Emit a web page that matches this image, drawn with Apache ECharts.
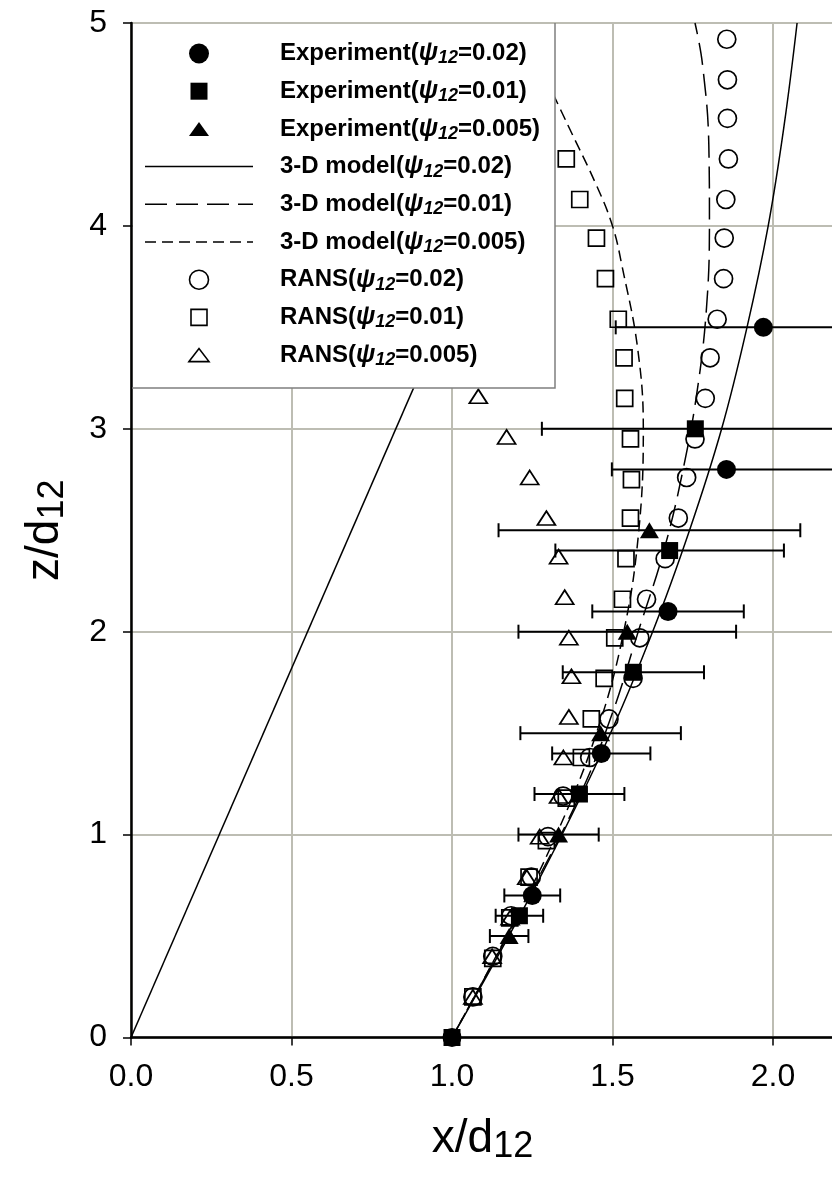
<!DOCTYPE html>
<html>
<head>
<meta charset="utf-8">
<script src="https://cdn.jsdelivr.net/npm/echarts@6/dist/echarts.min.js"></script>
<style>
  html, body { margin: 0; padding: 0; background: #fff; }
  #chart { width: 832px; height: 1182px; }
</style>
</head>
<body>
<div id="chart"></div>
<script>
// ---- Experiment: jet trajectory x/d12 at height z/d12, with horizontal error half-widths ----
const exp02Z = [0, 0.7, 1.4, 2.1, 2.8, 3.5];
const exp02X = [1.0, 1.25, 1.465, 1.673, 1.855, 1.97];
const exp02Err = [0, 0.087, 0.153, 0.236, 0.357, 0.46];

const exp01Z = [0, 0.6, 1.2, 1.8, 2.4, 3.0];
const exp01X = [1.0, 1.21, 1.397, 1.565, 1.678, 1.758];
const exp01Err = [0, 0.074, 0.14, 0.22, 0.356, 0.478];

const exp005Z = [0.5, 1.0, 1.5, 2.0, 2.5];
const exp005X = [1.178, 1.332, 1.463, 1.546, 1.615];
const exp005Err = [0.06, 0.125, 0.25, 0.339, 0.47];

// ---- 3-D model curves ----
const model02Z = [0, 0.7, 1.4, 2.0, 2.5, 3.0, 3.5, 4.0, 4.5, 5.0];
const model02X = [1.0, 1.245, 1.465, 1.625, 1.74, 1.84, 1.919, 1.985, 2.035, 2.075];

const model01Z = [0, 0.7, 1.2, 1.6, 2.0, 2.4, 2.8, 3.2, 3.6, 4.0, 4.4, 4.8, 5.0];
const model01X = [1.0, 1.24, 1.40, 1.50, 1.58, 1.66, 1.72, 1.765, 1.793, 1.802, 1.80, 1.78, 1.757];

const model005Z = [0, 0.5, 1.0, 1.5, 2.0, 2.5, 3.0, 3.4, 3.8, 4.0, 4.2, 4.5, 4.7];
const model005X = [1.0, 1.17, 1.325, 1.45, 1.535, 1.582, 1.596, 1.578, 1.53, 1.50, 1.45, 1.36, 1.30];

// straight solid line starting at the origin
const originLineZ = [0, 4.0];
const originLineX = [0, 1.1];

// ---- RANS results ----
const rans02Z = [0.2, 0.4, 0.6, 0.79, 0.99, 1.19, 1.38, 1.57, 1.77, 1.97, 2.16, 2.36, 2.56, 2.76, 2.95, 3.15, 3.35, 3.54, 3.74, 3.94, 4.13, 4.33, 4.53, 4.72, 4.92];
const rans02X = [1.065, 1.127, 1.184, 1.247, 1.299, 1.346, 1.429, 1.489, 1.564, 1.585, 1.606, 1.664, 1.705, 1.731, 1.757, 1.789, 1.804, 1.826, 1.846, 1.848, 1.853, 1.861, 1.858, 1.858, 1.856];

const rans01Z = [0.2, 0.39, 0.59, 0.79, 0.97, 1.18, 1.38, 1.57, 1.77, 1.97, 2.16, 2.36, 2.56, 2.75, 2.95, 3.15, 3.35, 3.54, 3.74, 3.94, 4.13, 4.33];
const rans01X = [1.065, 1.127, 1.18, 1.24, 1.294, 1.356, 1.403, 1.434, 1.474, 1.507, 1.531, 1.542, 1.556, 1.559, 1.556, 1.538, 1.536, 1.518, 1.478, 1.45, 1.398, 1.356];

const rans005Z = [0.2, 0.4, 0.59, 0.79, 0.99, 1.19, 1.38, 1.58, 1.78, 1.97, 2.17, 2.37, 2.56, 2.76, 2.96, 3.16];
const rans005X = [1.065, 1.125, 1.181, 1.233, 1.273, 1.332, 1.347, 1.364, 1.372, 1.364, 1.351, 1.332, 1.294, 1.242, 1.170, 1.082];

// ---- axis ticks ----
const xTicks = [0, 0.5, 1.0, 1.5, 2.0];
const zTicks = [0, 1, 2, 3, 4, 5];

const names = {
  exp02: 'Experiment(ψ12=0.02)',
  exp01: 'Experiment(ψ12=0.01)',
  exp005: 'Experiment(ψ12=0.005)',
  mod02: '3-D model(ψ12=0.02)',
  mod01: '3-D model(ψ12=0.01)',
  mod005: '3-D model(ψ12=0.005)',
  rans02: 'RANS(ψ12=0.02)',
  rans01: 'RANS(ψ12=0.01)',
  rans005: 'RANS(ψ12=0.005)'
};

const pairs = (xs, zs) => xs.map((x, i) => [x, zs[i]]);
const errRows = (xs, zs, es) => xs
  .map((x, i) => [x - es[i], x + es[i], zs[i]])
  .filter((r, i) => es[i] > 0);

const FONT = "'Liberation Sans', Arial, sans-serif";

const DASH_LONG = [22, 9];
const DASH_SHORT = [11, 6];
const openStyle = { color: 'rgba(0,0,0,0)', borderColor: '#000', borderWidth: 1.7, opacity: 1 };
const filledStyle = { color: '#000', borderColor: '#000', borderWidth: 0, opacity: 1 };

function renderErrorBar(params, api) {
  const lo = api.coord([api.value(0), api.value(2)]);
  const hi = api.coord([api.value(1), api.value(2)]);
  const cap = 7;
  const style = { stroke: '#000', lineWidth: 2 };
  return {
    type: 'group',
    children: [
      { type: 'line', shape: { x1: lo[0], y1: lo[1], x2: hi[0], y2: hi[1] }, style },
      { type: 'line', shape: { x1: lo[0], y1: lo[1] - cap, x2: lo[0], y2: lo[1] + cap }, style },
      { type: 'line', shape: { x1: hi[0], y1: hi[1] - cap, x2: hi[0], y2: hi[1] + cap }, style }
    ]
  };
}

function errorSeries(xs, zs, es) {
  return {
    type: 'custom', renderItem: renderErrorBar, silent: true, z: 4,
    encode: { x: [0, 1], y: 2 },
    data: errRows(xs, zs, es)
  };
}

function modelSeries(name, xs, zs, dash) {
  return {
    name, type: 'line', data: pairs(xs, zs), showSymbol: false, symbol: 'none',
    smooth: 0.4, silent: true, z: 2,
    lineStyle: { color: '#000', width: 1.5, type: dash, opacity: 1 },
    emphasis: { disabled: true }
  };
}

function markerSeries(name, xs, zs, symbol, size, style, z) {
  return {
    name, type: 'scatter', data: pairs(xs, zs), symbol, symbolSize: size,
    itemStyle: style, silent: true, z, emphasis: { disabled: true }
  };
}

// ---- key box: one row per series, symbol column and rich-text label ----
const keyRows = [
  { name: names.exp02, kind: 'circle', fill: true, size: 20 },
  { name: names.exp01, kind: 'rect', fill: true, size: 17 },
  { name: names.exp005, kind: 'tri', fill: true, size: [20, 14] },
  { name: names.mod02, kind: 'line', dash: null },
  { name: names.mod01, kind: 'line', dash: DASH_LONG },
  { name: names.mod005, kind: 'line', dash: DASH_SHORT },
  { name: names.rans02, kind: 'circle', fill: false, size: 19 },
  { name: names.rans01, kind: 'rect', fill: false, size: 16 },
  { name: names.rans005, kind: 'tri', fill: false, size: [20, 13] }
];

const KEY = { left: 132, top: 23, right: 555, bottom: 388, symX: 199, lineX0: 145, lineX1: 253, textX: 280, row0: 53.5, rowStep: 37.7 };

const labelRich = {
  psi: { fontFamily: FONT, fontSize: 25, fontWeight: 'bold', fontStyle: 'italic', fill: '#000', lineHeight: 30 },
  sub: { fontFamily: FONT, fontSize: 18, fontWeight: 'bold', fontStyle: 'italic', fill: '#000', lineHeight: 18, padding: [10, 0, 0, 0] }
};

function keySymbol(row, cy) {
  const stroke = row.fill ? null : '#000';
  const fill = row.fill ? '#000' : null;
  const style = { fill, stroke, lineWidth: 1.6 };
  const cx = KEY.symX;
  if (row.kind === 'circle') {
    return { type: 'circle', shape: { cx, cy, r: row.size / 2 }, style };
  }
  if (row.kind === 'rect') {
    const s = row.size;
    return { type: 'rect', shape: { x: cx - s / 2, y: cy - s / 2, width: s, height: s }, style };
  }
  if (row.kind === 'tri') {
    const [w, h] = row.size;
    return { type: 'polygon', shape: { points: [[cx - w / 2, cy + h / 2], [cx, cy - h / 2], [cx + w / 2, cy + h / 2]] }, style };
  }
  return {
    type: 'line', shape: { x1: KEY.lineX0, y1: cy, x2: KEY.lineX1, y2: cy },
    style: { stroke: '#000', lineWidth: 1.5, lineDash: row.dash }
  };
}

const keyGraphics = [
  { type: 'rect', silent: true, z: 9, shape: { x: KEY.left + 1, y: KEY.top + 1, width: KEY.right - KEY.left - 1, height: KEY.bottom - KEY.top - 1 }, style: { fill: '#fff' } },
  { type: 'polyline', silent: true, z: 9, shape: { points: [[KEY.right, KEY.top], [KEY.right, KEY.bottom], [KEY.left, KEY.bottom]] }, style: { stroke: '#7f7f7f', lineWidth: 1.5, fill: null } }
];
keyRows.forEach((row, i) => {
  const cy = KEY.row0 + i * KEY.rowStep;
  keyGraphics.push(Object.assign(keySymbol(row, cy), { silent: true, z: 10 }));
  keyGraphics.push({
    type: 'text', silent: true, z: 10,
    style: {
      x: KEY.textX, y: cy, text: row.name.replace('ψ12', '{psi|ψ}{sub|12}'),
      fontFamily: FONT, fontSize: 24, fontWeight: 'bold', fill: '#000', lineHeight: 30,
      align: 'left', verticalAlign: 'middle', rich: labelRich
    }
  });
});

const axisNameRich = {
  a: { fontFamily: FONT, fontSize: 46, color: '#000', lineHeight: 52 },
  b: { fontFamily: FONT, fontSize: 36, color: '#000', lineHeight: 36, padding: [16, 0, 0, 0] }
};

const chart = echarts.init(document.getElementById('chart'), null, { renderer: 'canvas' });

chart.setOption({
  animation: false,
  backgroundColor: '#fff',
  grid: {
    left: 131, right: -2, top: 23, bottom: 144.5,
    outerBoundsMode: 'none', containLabel: false,
    show: true, borderColor: '#000', borderWidth: 1.5, backgroundColor: 'transparent'
  },
  xAxis: {
    type: 'value', min: xTicks[0], max: 2.19, interval: 0.5,
    name: '{a|x/d}{b|12}', nameLocation: 'middle', nameGap: 76,
    nameTextStyle: { rich: axisNameRich },
    axisLine: { show: true, onZero: false, lineStyle: { color: '#000', width: 2.5 } },
    axisTick: { show: true, inside: false, length: 8, lineStyle: { color: '#000', width: 1.5 } },
    axisLabel: {
      show: true, margin: 24, fontFamily: FONT, fontSize: 32, color: '#000',
      showMaxLabel: false, hideOverlap: false,
      formatter: (v) => (xTicks.includes(+v.toFixed(2)) ? v.toFixed(1) : '')
    },
    splitLine: { show: true, lineStyle: { color: '#bdbdb3', width: 2 } }
  },
  yAxis: {
    type: 'value', min: zTicks[0], max: zTicks[zTicks.length - 1], interval: 1,
    name: '{a|z/d}{b|12}', nameLocation: 'middle', nameGap: 60, nameRotate: 90,
    nameTextStyle: { rich: axisNameRich },
    axisLine: { show: true, onZero: false, lineStyle: { color: '#000', width: 2.5 } },
    axisTick: { show: true, inside: false, length: 8, lineStyle: { color: '#000', width: 1.5 } },
    axisLabel: {
      show: true, margin: 24, fontFamily: FONT, fontSize: 32, color: '#000',
      formatter: (v) => String(v)
    },
    splitLine: { show: true, lineStyle: { color: '#bdbdb3', width: 2 } }
  },
  graphic: keyGraphics,
  series: [
    { type: 'line', data: pairs(originLineX, originLineZ), showSymbol: false, symbol: 'none', silent: true, z: 2,
      lineStyle: { color: '#000', width: 1.5 }, emphasis: { disabled: true } },
    modelSeries(names.mod02, model02X, model02Z, 'solid'),
    modelSeries(names.mod01, model01X, model01Z, DASH_LONG),
    modelSeries(names.mod005, model005X, model005Z, DASH_SHORT),
    markerSeries(names.rans02, rans02X, rans02Z, 'circle', 18, openStyle, 3),
    markerSeries(names.rans01, rans01X, rans01Z, 'rect', 16, openStyle, 3),
    markerSeries(names.rans005, rans005X, rans005Z, 'triangle', [18, 14], openStyle, 3),
    errorSeries(exp02X, exp02Z, exp02Err),
    errorSeries(exp01X, exp01Z, exp01Err),
    errorSeries(exp005X, exp005Z, exp005Err),
    markerSeries(names.exp02, exp02X, exp02Z, 'circle', 19, filledStyle, 5),
    markerSeries(names.exp01, exp01X, exp01Z, 'rect', 17, filledStyle, 5),
    markerSeries(names.exp005, exp005X, exp005Z, 'triangle', [19, 16], filledStyle, 5)
  ]
});
</script>
</body>
</html>
